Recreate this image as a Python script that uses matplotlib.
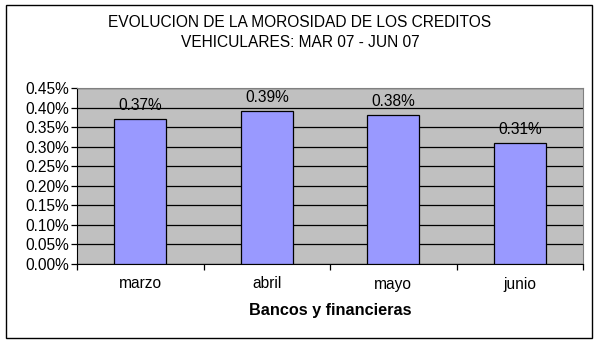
import matplotlib.pyplot as plt
from matplotlib.patches import Rectangle
from matplotlib.ticker import FuncFormatter, MultipleLocator

meses = ['marzo', 'abril', 'mayo', 'junio']
morosidad = [0.37, 0.39, 0.38, 0.31]
titulo = 'EVOLUCION DE LA MOROSIDAD DE LOS CREDITOS\nVEHICULARES: MAR 07 - JUN 07'
eje_x = 'Bancos y financieras'

plt.rcParams['font.family'] = ['Liberation Sans', 'DejaVu Sans']
fs = 11.2

W, H = 599, 344
fig = plt.figure(figsize=(W / 100, H / 100), dpi=100)

# outer chart border
fig.patches.append(Rectangle((6 / W, 1 - 338 / H), (592 - 6) / W, (338 - 5) / H,
                             transform=fig.transFigure, fill=False,
                             edgecolor='black', linewidth=1))

ax = fig.add_axes([77 / W, 1 - 264 / H, (583 - 77) / W, (264 - 88) / H])
ax.set_facecolor('#C0C0C0')

x = range(len(meses))
bars = ax.bar(x, morosidad, width=0.41, color='#9999FF', edgecolor='black',
              linewidth=0.9, zorder=3)
for xi, v in zip(x, morosidad):
    ax.annotate('%.2f%%' % v, (xi, v), xytext=(0, 4.5), textcoords='offset points',
                ha='center', va='bottom', fontsize=fs, zorder=4)

ax.set_xlim(-0.5, len(meses) - 0.5)
ax.set_ylim(0, 0.45)
ax.yaxis.set_major_locator(MultipleLocator(0.05))
ax.yaxis.set_major_formatter(FuncFormatter(lambda v, p: '%.2f%%' % v))
ax.grid(axis='y', color='black', linewidth=0.9, zorder=1)
ax.set_axisbelow(True)

ax.set_xticks([i + 0.5 for i in range(len(meses) - 1)] + [-0.5, len(meses) - 0.5])
ax.set_xticklabels([])
ax.set_xticks(list(x), minor=True)
ax.set_xticklabels(meses, minor=True, fontsize=fs)
ax.tick_params(axis='x', which='major', length=4, direction='out', width=0.9)
ax.tick_params(axis='x', which='minor', length=0, pad=9)
ax.tick_params(axis='y', length=4, direction='out', width=0.9, labelsize=fs, pad=2)

for s in ['top', 'right']:
    ax.spines[s].set_color('#808080')
for s in ['left', 'bottom']:
    ax.spines[s].set_color('black')

ax.set_xlabel(eje_x, fontsize=11.7, fontweight='bold', labelpad=8)
fig.text(300 / W, 1 - 32.5 / H, titulo, ha='center', va='center', fontsize=fs,
         linespacing=1.4)

fig.savefig('out.png', dpi=100)
